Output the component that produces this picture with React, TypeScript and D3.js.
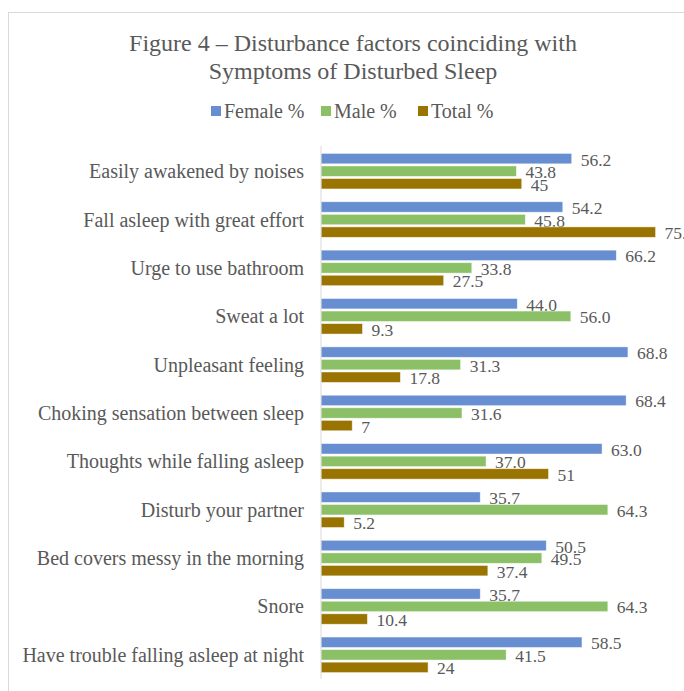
import React from "react";
import * as d3 from "d3";

// Disturbance factors (top to bottom as drawn)
const categories: string[] = [
  "Easily awakened by noises",
  "Fall asleep with great effort",
  "Urge to use bathroom",
  "Sweat a lot",
  "Unpleasant feeling",
  "Choking sensation between sleep",
  "Thoughts while falling asleep",
  "Disturb your partner",
  "Bed covers messy in the morning",
  "Snore",
  "Have trouble falling asleep at night",
];

const femalePct: number[] = [56.2, 54.2, 66.2, 44.0, 68.8, 68.4, 63.0, 35.7, 50.5, 35.7, 58.5];
const malePct: number[] = [43.8, 45.8, 33.8, 56.0, 31.3, 31.6, 37.0, 64.3, 49.5, 64.3, 41.5];
// Totals are kept as their printed labels; bar lengths are parsed from them
const totalLabels: string[] = ["45", "75.0", "27.5", "9.3", "17.8", "7", "51", "5.2", "37.4", "10.4", "24"];
const totalPct: number[] = totalLabels.map((s) => +s);

const seriesNames: string[] = ["Female %", "Male %", "Total %"];
const seriesColors: string[] = ["#678ed0", "#8bc066", "#9a7400"];

const title1 = "Figure 4 \u2013 Disturbance factors coinciding with";
const title2 = "Symptoms of Disturbed Sleep";

const W = 684;
const H = 691;
const FONT = "'Liberation Serif', 'Times New Roman', serif";
const TEXT = "#595959";

export default function App() {
  const x = d3.scaleLinear().domain([0, 80]).range([321, 321 + 80 * 4.461]);
  const y = d3.scaleBand<string>().domain(categories).range([147, 679]).paddingInner(0.265).paddingOuter(0.1325);
  const keys = ["f", "m", "t"];
  const inner = d3.scaleBand<string>().domain(keys).range([0, y.bandwidth()]).paddingInner(0.17);

  const rows = categories.map((c, i) => ({
    cat: c,
    vals: [
      { key: "f", v: femalePct[i], label: d3.format(".1f")(femalePct[i]) },
      { key: "m", v: malePct[i], label: d3.format(".1f")(malePct[i]) },
      { key: "t", v: totalPct[i], label: totalLabels[i] },
    ],
  }));

  // legend layout
  const legendItems = [
    { name: seriesNames[0], color: seriesColors[0], x: 211 },
    { name: seriesNames[1], color: seriesColors[1], x: 321 },
    { name: seriesNames[2], color: seriesColors[2], x: 418 },
  ];

  return (
    <svg
      width={W}
      height={H}
      style={{ position: "absolute", left: 0, top: 0, background: "#fff" }}
      fontFamily={FONT}
    >
      <rect x={8.5} y={12.5} width={W + 20} height={H + 20} fill="#fff" stroke="#d9d9d9" strokeWidth={1} />

      <text x={353} y={51} textAnchor="middle" fontSize={24} fill={TEXT}>{title1}</text>
      <text x={353} y={79} textAnchor="middle" fontSize={24} fill={TEXT}>{title2}</text>

      {legendItems.map((d) => (
        <g key={d.name}>
          <rect x={d.x} y={106} width={10} height={10} fill={d.color} />
          <text x={d.x + 13} y={118} fontSize={20} fill={TEXT}>{d.name}</text>
        </g>
      ))}

      {rows.map((r) => (
        <g key={r.cat} transform={`translate(0,${y(r.cat)})`}>
          <text
            x={304}
            y={y.bandwidth() / 2}
            textAnchor="end"
            dominantBaseline="central"
            fontSize={20}
            fill={TEXT}
          >
            {r.cat}
          </text>
          {r.vals.map((v, j) => (
            <g key={v.key}>
              <rect
                x={x(0)}
                y={inner(v.key)!}
                width={x(v.v) - x(0)}
                height={inner.bandwidth()}
                fill={seriesColors[j]}
                stroke="#ffffff"
                strokeOpacity={0.6}
                strokeWidth={0.75}
              />
              <text
                x={x(v.v) + 9}
                y={inner(v.key)! + inner.bandwidth() / 2 + 1}
                dominantBaseline="central"
                fontSize={17.5}
                fill={TEXT}
              >
                {v.label}
              </text>
            </g>
          ))}
        </g>
      ))}

      <line x1={x(0)} x2={x(0)} y1={146} y2={679} stroke="#d9d9d9" strokeWidth={1} />
    </svg>
  );
}
